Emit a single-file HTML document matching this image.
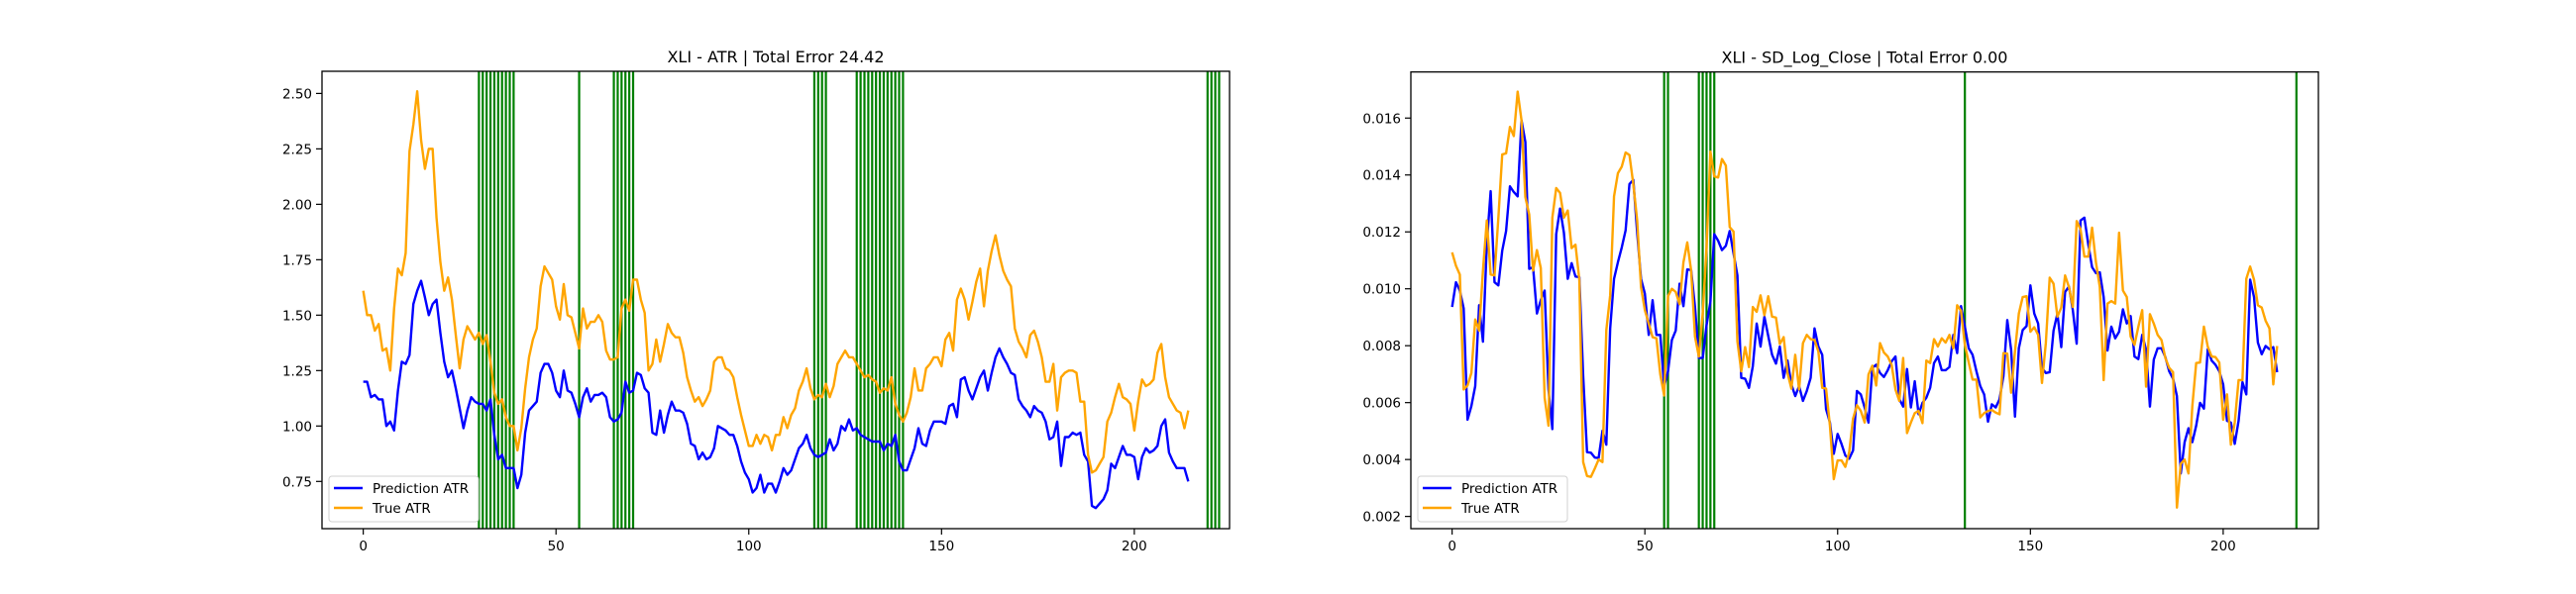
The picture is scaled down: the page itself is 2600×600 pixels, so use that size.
<!DOCTYPE html>
<html><head><meta charset="utf-8">
<style>
html,body{margin:0;padding:0;background:#fff;}
svg{display:block;font-family:"DejaVu Sans","Liberation Sans",sans-serif;}
</style></head>
<body>
<svg id="fig" width="2600" height="600" viewBox="0 0 2600 600" xmlns="http://www.w3.org/2000/svg">
<rect x="0" y="0" width="2600" height="600" fill="#fff"/>
</svg>
<script>
// ---- data: left chart (ATR) ----
const leftPred = [1.20,1.20,1.13,1.14,1.12,1.12,1.00,1.02,0.98,1.16,1.29,1.28,1.32,1.55,1.61,1.655,1.58,1.50,1.55,1.57,1.42,1.29,1.22,1.25,1.17,1.08,0.99,1.07,1.13,1.11,1.10,1.10,1.07,1.12,0.96,0.85,0.87,0.81,0.81,0.81,0.72,0.78,0.97,1.07,1.09,1.11,1.24,1.28,1.28,1.24,1.16,1.13,1.25,1.16,1.15,1.10,1.04,1.13,1.17,1.11,1.14,1.14,1.15,1.13,1.04,1.02,1.03,1.06,1.20,1.15,1.16,1.24,1.23,1.17,1.15,0.97,0.96,1.07,0.97,1.05,1.11,1.07,1.07,1.06,1.01,0.92,0.91,0.85,0.88,0.85,0.86,0.90,1.00,0.99,0.98,0.96,0.96,0.91,0.84,0.79,0.76,0.70,0.72,0.78,0.70,0.74,0.74,0.70,
0.75,0.81,0.78,0.80,0.85,0.90,0.92,0.96,0.90,0.87,0.86,0.87,0.88,0.94,0.89,0.92,1.00,0.98,1.03,0.98,0.99,0.96,0.95,0.94,0.93,0.93,0.93,0.89,0.92,0.91,0.96,0.84,0.80,0.80,0.85,0.90,0.99,0.92,0.91,0.98,1.02,1.02,1.02,1.01,1.09,1.10,1.04,1.21,1.22,1.16,1.12,1.17,1.22,1.25,1.16,1.24,1.31,1.35,1.31,1.28,1.24,1.23,1.12,1.09,1.07,1.04,1.09,1.07,1.06,1.02,0.94,0.95,1.02,0.82,0.95,0.95,0.97,0.96,0.97,0.87,0.84,0.64,0.63,0.65,0.67,0.71,0.83,0.81,0.86,0.91,0.87,0.87,0.86,0.76,0.86,0.90,0.88,0.89,0.91,1.00,1.03,0.88,0.84,0.81,0.81,0.81,0.75];
const leftTrue = [1.61,1.50,1.50,1.43,1.46,1.34,1.35,1.25,1.53,1.71,1.68,1.78,2.24,2.36,2.51,2.29,2.16,2.25,2.25,1.94,1.74,1.61,1.67,1.57,1.41,1.26,1.39,1.45,1.42,1.39,1.42,1.37,1.41,1.29,1.15,1.10,1.12,1.04,1.00,1.00,0.89,0.99,1.17,1.31,1.39,1.44,1.63,1.72,1.69,1.66,1.54,1.48,1.64,1.50,1.49,1.42,1.35,1.53,1.44,1.47,1.47,1.50,1.47,1.34,1.30,1.30,1.31,1.53,1.57,1.52,1.66,1.66,1.57,1.51,1.25,1.28,1.39,1.29,1.37,1.46,1.42,1.40,1.40,1.33,1.22,1.16,1.11,1.13,1.09,1.12,1.16,1.29,1.31,1.31,1.26,1.25,1.22,1.13,1.05,0.98,0.91,0.91,0.96,0.92,0.96,0.95,0.89,0.96,
0.96,1.04,0.99,1.05,1.08,1.16,1.20,1.26,1.17,1.12,1.14,1.13,1.19,1.13,1.18,1.28,1.31,1.34,1.31,1.31,1.28,1.25,1.22,1.23,1.21,1.20,1.15,1.17,1.16,1.22,1.10,1.05,1.02,1.06,1.13,1.26,1.16,1.16,1.26,1.28,1.31,1.31,1.27,1.39,1.42,1.34,1.57,1.62,1.57,1.48,1.56,1.65,1.71,1.54,1.70,1.79,1.86,1.77,1.70,1.66,1.63,1.44,1.38,1.35,1.31,1.41,1.43,1.38,1.31,1.20,1.20,1.28,1.07,1.22,1.24,1.25,1.25,1.24,1.11,1.11,0.87,0.79,0.80,0.83,0.86,1.02,1.06,1.13,1.19,1.13,1.12,1.10,0.98,1.11,1.21,1.18,1.19,1.21,1.33,1.37,1.22,1.13,1.10,1.07,1.06,0.99,1.07];
const leftSignals = [30,31,32,33,34,35,36,37,38,39,56,65,66,67,68,69,70,117,118,119,120,128,129,130,131,132,133,134,135,136,137,138,139,140,219,220,221,222];
const leftYTicks = [0.75,1.00,1.25,1.50,1.75,2.00,2.25,2.50];
const xTicks = [0,50,100,150,200];

// ---- data: right chart (SD_Log_Close) ----
const rightPred = [0.00936,0.01023,0.00994,0.00931,0.00540,0.00588,0.00658,0.00942,0.00814,0.01157,0.01343,0.01023,0.01012,0.01134,0.01203,0.01360,0.01340,0.01325,0.01592,0.01516,0.01070,0.01076,0.00913,0.00960,0.00994,0.00646,0.00507,0.01192,0.01282,0.01197,0.01035,0.01090,0.01043,0.01041,0.00693,0.00426,0.00424,0.00407,0.00405,0.00501,0.00452,0.00861,0.01035,0.01093,0.01145,0.01205,0.01368,0.01383,0.01197,0.01035,0.00983,0.00838,0.00960,0.00838,0.00838,0.00658,0.00710,0.00820,0.00853,0.01018,0.00939,0.01068,0.01066,0.00936,0.00757,0.00757,0.00873,0.00954,0.01192,0.01169,0.01136,0.01151,0.01203,0.01124,0.01047,0.00687,0.00684,0.00652,0.00728,0.00878,0.00797,0.00902,0.00834,0.00768,0.00737,0.00797,0.00687,0.00748,0.00664,0.00623,0.00658,0.00606,0.00641,0.00687,0.00861,0.00797,0.00768,0.00577,0.00530,0.00420,
0.00490,0.00455,0.00414,0.00403,0.00432,0.00641,0.00629,0.00583,0.00530,0.00722,0.00733,0.00704,0.00690,0.00714,0.00745,0.00762,0.00612,0.00586,0.00718,0.00583,0.00675,0.00559,0.00599,0.00617,0.00652,0.00739,0.00762,0.00714,0.00714,0.00725,0.00838,0.00774,0.00939,0.00867,0.00791,0.00768,0.00710,0.00658,0.00629,0.00533,0.00594,0.00583,0.00612,0.00693,0.00890,0.00786,0.00551,0.00791,0.00855,0.00869,0.01012,0.00913,0.00878,0.00722,0.00704,0.00707,0.00853,0.00913,0.00795,0.00989,0.01008,0.00925,0.00807,0.01240,0.01250,0.01157,0.01076,0.01055,0.01058,0.00971,0.00783,0.00867,0.00826,0.00849,0.00928,0.00878,0.00904,0.00762,0.00753,0.00838,0.00786,0.00586,0.00751,0.00791,0.00791,0.00760,0.00710,0.00684,0.00623,0.00351,0.00461,0.00510,0.00461,0.00519,0.00599,0.00579,0.00788,0.00748,0.00733,0.00710,0.00664,0.00536,0.00530,0.00455,0.00536,0.00672,0.00629,0.01032,0.00971,0.00811,0.00770,0.00799,0.00788,0.00795,0.00707];
const rightTrue = [0.01128,0.01081,0.01050,0.00646,0.00660,0.00704,0.00892,0.00853,0.01064,0.01240,0.01050,0.01047,0.01250,0.01472,0.01476,0.01569,0.01537,0.01693,0.01592,0.01322,0.01261,0.01064,0.01136,0.01073,0.00617,0.00519,0.01250,0.01354,0.01337,0.01250,0.01275,0.01143,0.01155,0.01032,0.00391,0.00342,0.00339,0.00368,0.00400,0.00391,0.00855,0.00977,0.01325,0.01406,0.01429,0.01479,0.01470,0.01368,0.01240,0.01006,0.00925,0.00878,0.00830,0.00826,0.00699,0.00625,0.00974,0.01000,0.00989,0.00946,0.01093,0.01163,0.01064,0.00832,0.00762,0.00913,0.01145,0.01482,0.01395,0.01391,0.01456,0.01433,0.01217,0.01201,0.00815,0.00710,0.00795,0.00725,0.00936,0.00919,0.00977,0.00907,0.00974,0.00902,0.00899,0.00806,0.00830,0.00704,0.00649,0.00768,0.00646,0.00809,0.00838,0.00823,0.00820,0.00780,0.00652,0.00649,0.00519,0.00331,
0.00397,0.00397,0.00374,0.00426,0.00544,0.00591,0.00571,0.00530,0.00699,0.00730,0.00660,0.00809,0.00776,0.00762,0.00733,0.00646,0.00606,0.00757,0.00493,0.00530,0.00563,0.00571,0.00528,0.00748,0.00739,0.00823,0.00797,0.00826,0.00811,0.00838,0.00791,0.00942,0.00923,0.00803,0.00741,0.00681,0.00681,0.00548,0.00563,0.00571,0.00574,0.00565,0.00559,0.00774,0.00772,0.00635,0.00780,0.00913,0.00971,0.00974,0.00849,0.00865,0.00838,0.00669,0.00809,0.01039,0.01018,0.00902,0.00934,0.01047,0.01006,0.00936,0.01238,0.01209,0.01113,0.01113,0.01215,0.01093,0.01006,0.00679,0.00948,0.00957,0.00948,0.01197,0.00994,0.00971,0.00832,0.00803,0.00867,0.00925,0.00656,0.00911,0.00878,0.00838,0.00820,0.00757,0.00722,0.00707,0.00231,0.00385,0.00400,0.00351,0.00588,0.00739,0.00741,0.00867,0.00797,0.00762,0.00760,0.00741,0.00540,0.00629,0.00452,0.00530,0.00679,0.00679,0.01035,0.01078,0.01032,0.00942,0.00934,0.00888,0.00861,0.00664,0.00799];
const rightSignals = [55,56,64,65,66,67,68,133,219];
const rightYTicks = [0.002,0.004,0.006,0.008,0.010,0.012,0.014,0.016];

const NS = "http://www.w3.org/2000/svg";
const fig = document.getElementById('fig');
function mk(tag, attrs, parent){
  const e = document.createElementNS(NS, tag);
  for (const k in attrs) e.setAttribute(k, attrs[k]);
  (parent||fig).appendChild(e);
  return e;
}

function drawChart(cfg){
  const g = mk('g', {});
  
  
  const L=cfg.left, R=cfg.right, T=cfg.top, B=cfg.bottom;
  const sx = v => L + (v - cfg.xmin) / (cfg.xmax - cfg.xmin) * (R - L);
  const sy = v => B - (v - cfg.ymin) / (cfg.ymax - cfg.ymin) * (B - T);

  const sigG = mk('g', {}, g);
  
  
  cfg.signals.forEach(s => {
    const ln = mk('line', {x1:sx(s), x2:sx(s), y1:T, y2:B, stroke:'#008000', 'stroke-width':2.2}, sigG);
    
    
  });

  const line = (arr, color, nm) => {
    const d = arr.map((v,i) => (i?'L':'M') + sx(i).toFixed(2) + ' ' + sy(v).toFixed(2)).join(' ');
    const p = mk('path', {d:d, fill:'none', stroke:color, 'stroke-width':2.4, 'stroke-linejoin':'round'}, g);
    
    
  };
  line(cfg.pred, '#0000ff', 'prediction-line');
  line(cfg.truth, '#ffa500', 'true-line');

  const fr = mk('rect', {x:L, y:T, width:R-L, height:B-T, fill:'none', stroke:'#000', 'stroke-width':1.3}, g);
  
  

  xTicks.forEach(t => {
    const x = sx(t);
    mk('line', {x1:x, x2:x, y1:B, y2:B+6, stroke:'#000', 'stroke-width':1.2}, g);
    const tx = mk('text', {x:x, y:B+22, 'font-size':13.5, 'text-anchor':'middle', fill:'#000'}, g);
    tx.textContent = String(t);
    
    
  });
  cfg.yticks.forEach(t => {
    const y = sy(t);
    mk('line', {x1:L-6, x2:L, y1:y, y2:y, stroke:'#000', 'stroke-width':1.2}, g);
    const tx = mk('text', {x:L-10, y:y+5, 'font-size':13.5, 'text-anchor':'end', fill:'#000'}, g);
    tx.textContent = t.toFixed(cfg.ydec);
    
    
  });
  const ti = mk('text', {x:(L+R)/2, y:T-9, 'font-size':16, 'text-anchor':'middle', fill:'#000'}, g);
  ti.textContent = cfg.title;
  
  

  const lg = mk('g', {}, g);
  
  
  const lx = L+7, ly = B-53;
  mk('rect', {x:lx, y:ly, width:151, height:46, rx:3, fill:'#fff', 'fill-opacity':0.8, stroke:'#d0d0d0', 'stroke-width':1}, lg);
  [['Prediction ATR','#0000ff',ly+12],['True ATR','#ffa500',ly+32]].forEach(([lab,col,yy]) => {
    mk('line', {x1:lx+5, x2:lx+34, y1:yy, y2:yy, stroke:col, 'stroke-width':2.5}, lg);
    const t = mk('text', {x:lx+44, y:yy+5, 'font-size':13.5, fill:'#000'}, lg);
    t.textContent = lab;
    
    
  });
}

drawChart({name:'atr-chart', left:325, right:1241, top:72, bottom:534,
  xmin:-10.7, xmax:224.7, ymin:0.537, ymax:2.600,
  pred:leftPred, truth:leftTrue, signals:leftSignals, yticks:leftYTicks, ydec:2,
  title:'XLI - ATR | Total Error 24.42'});
drawChart({name:'sd-log-close-chart', left:1424, right:2340, top:72.7, bottom:534,
  xmin:-10.7, xmax:224.7, ymin:0.00157, ymax:0.01762,
  pred:rightPred, truth:rightTrue, signals:rightSignals, yticks:rightYTicks, ydec:3,
  title:'XLI - SD_Log_Close | Total Error 0.00'});
</script>
</body></html>
